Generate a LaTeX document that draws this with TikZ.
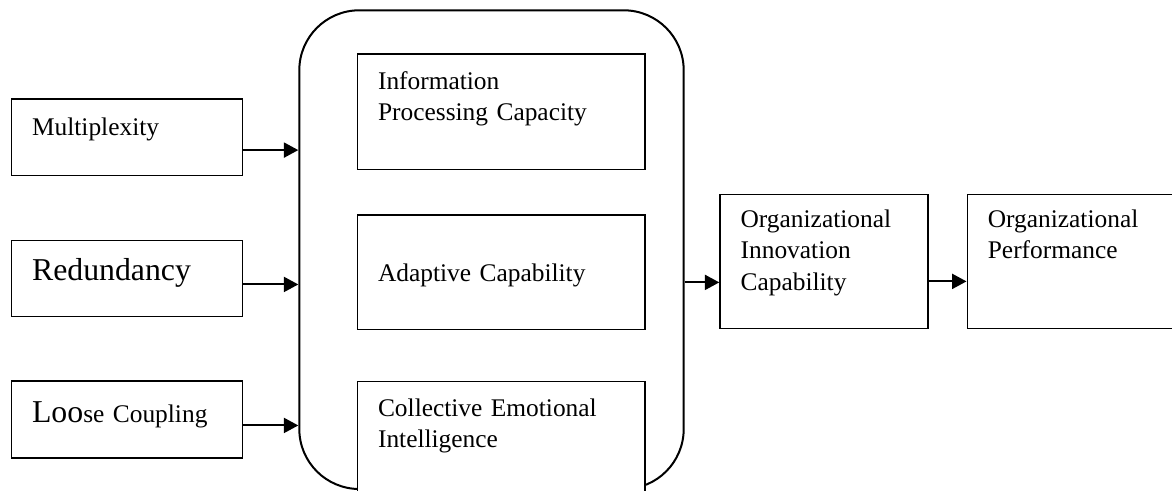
\documentclass[tikz,border=0pt]{standalone}
\usepackage{fontspec}
\setmainfont{Liberation Serif}
\usetikzlibrary{arrows.meta,positioning}

\newcommand{\txtfont}{\fontsize{12.7pt}{15.75pt}\selectfont}
\newcommand{\bigtxt}{\fontsize{15.9pt}{19pt}\selectfont}

\begin{document}
\begin{tikzpicture}[
 x=0.5pt,y=-0.5pt,
 box/.style={draw,line width=0.75pt,fill=white,anchor=north west,align=left,font=\txtfont,inner xsep=10.3pt,inner ysep=0pt},
 side/.style={box,text width=94.9pt},
 inner/.style={box,text width=123.05pt},
 outcome/.style={box,text width=83.4pt,text height=16.35pt,text depth=50.5pt},
 frame/.style={draw,line width=1pt,rounded corners=30pt,anchor=north west,inner sep=0pt},
 flow/.style={-{Triangle[length=7.2pt,width=7.5pt]},line width=1pt}]
\clip (0,0) rectangle (1172,491);
% network structure
\node[side,text height=18pt,text depth=20.35pt] (mult) at (10.7,98.3) {Multiplexity};
\node[side,text height=20pt,text depth=18pt,below=31.6pt of mult] (redund) {\bigtxt Redundancy};
\node[side,text height=21pt,text depth=17.5pt,below=31.5pt of redund] (loose) {{\bigtxt Loo}se Coupling};
% capabilities
\node[frame,minimum width=192.2pt,minimum height=239.35pt] (caps) at (298.3,9.3) {};
\node[inner,text height=17.5pt,text depth=40.2pt] (ipc) at (356.7,53.3) {Information\\Processing Capacity};
\node[inner,text height=33.3pt,text depth=24pt,below=22pt of ipc] (adapt) {Adaptive Capability};
\node[inner,text height=17.35pt,text depth=45pt,below=25.35pt of adapt] (cei) {Collective Emotional\\Intelligence};
% outcomes
\node[outcome] (innov) at (719.3,194) {Organizational\\Innovation\\Capability};
\node[outcome,text width=89.4pt,right=18.85pt of innov] (perf) {Organizational\\Performance};
\coordinate (m1) at ([yshift=-6.35pt]mult.east);
\coordinate (r1) at ([yshift=-3pt]redund.east);
\coordinate (l1) at ([yshift=-3pt]loose.east);
\coordinate (c1) at ([yshift=-10.4pt]innov.west);
\coordinate (c2) at ([yshift=-9.9pt]innov.east);
\draw[flow] (m1)--(m1-|caps.west);
\draw[flow] (r1)--(r1-|caps.west);
\draw[flow] (l1)--(l1-|caps.west);
\draw[flow] (c1-|caps.east)--(c1);
\draw[flow] (c2)--(c2-|perf.west);
\end{tikzpicture}
\end{document}
